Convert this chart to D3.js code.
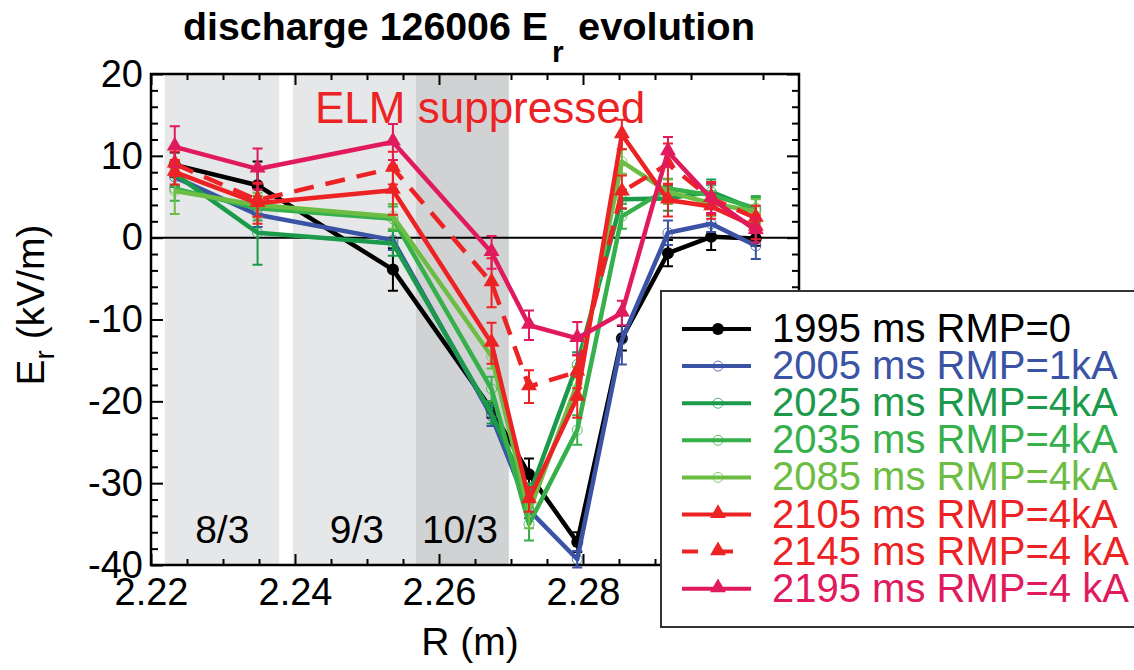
<!DOCTYPE html>
<html>
<head>
<meta charset="utf-8">
<script src="https://d3js.org/d3.v7.min.js"></script>
<style>
  body { margin: 0; background: #fff; }
  svg { display: block; font-family: "Liberation Sans", Arial, Helvetica, sans-serif; }
</style>
</head>
<body>
<svg id="chart" width="1134" height="670"></svg>
<script>
// radial positions (m)
var R = [2.2233, 2.2348, 2.2536, 2.2673, 2.2725, 2.2792, 2.2854, 2.2918, 2.2978, 2.3040];

// Er (kV/m) and error bars, one pair per time slice
var er1995 = [8.9, 6.4, -3.9, -21.0, -28.9, -37.2, -12.3, -1.9, 0.1, -0.1];
var sd1995 = [1.5, 2.9, 2.6, 1.0, 1.9, 1.2, 1.5, 1.6, 1.6, 0.9];
var er2005 = [7.4, 2.8, -0.3, -21.8, -33.3, -39.3, -12.5, 0.6, 1.7, -1.0];
var sd2005 = [1.2, 1.5, 1.2, 1.2, 1.0, 1.0, 3.0, 1.5, 1.0, 1.6];
var er2025 = [7.8, 0.6, -0.7, -21.5, -31.5, -15.5, 4.7, 4.8, 5.6, 3.4];
var sd2025 = [1.5, 3.9, 1.5, 1.2, 1.5, 1.5, 1.2, 1.5, 1.5, 1.5];
var er2035 = [6.0, 3.6, 2.3, -18.5, -35.0, -23.5, 2.6, 6.0, 5.2, 3.6];
var sd2035 = [1.5, 1.5, 1.5, 1.5, 2.0, 1.8, 1.5, 1.2, 1.2, 1.5];
var er2085 = [5.7, 4.0, 2.6, -14.5, -33.5, -17.8, 9.3, 5.6, 4.2, 3.2];
var sd2085 = [2.8, 1.5, 1.5, 1.5, 2.0, 2.0, 1.5, 1.5, 1.5, 1.5];
var er2105 = [8.0, 4.2, 5.8, -12.9, -32.0, -19.5, 12.6, 4.6, 3.8, 1.3];
var sd2105 = [1.5, 2.5, 3.0, 2.5, 1.5, 2.5, 1.8, 2.0, 1.5, 1.5];
var er2145 = [9.0, 4.6, 8.5, -5.5, -18.2, -16.4, 5.6, 9.0, 4.8, 2.4];
var sd2145 = [1.5, 2.0, 2.0, 3.0, 2.0, 2.0, 2.0, 2.5, 2.0, 1.5];
var er2195 = [11.1, 8.4, 11.7, -1.8, -10.7, -12.3, -9.2, 10.5, 4.8, 0.9];
var sd2195 = [2.5, 2.5, 2.2, 2.0, 1.8, 2.0, 1.5, 1.8, 1.8, 1.5];

var labels = ["1995 ms RMP=0", "2005 ms RMP=1kA", "2025 ms RMP=4kA", "2035 ms RMP=4kA",
              "2085 ms RMP=4kA", "2105 ms RMP=4kA", "2145 ms RMP=4 kA", "2195 ms RMP=4 kA"];

// rational surface bands (R range) and their names
var bandStart = [2.2219, 2.2397, 2.2568];
var bandEnd   = [2.2378, 2.2568, 2.2697];
var bandNames = ["8/3", "9/3", "10/3"];
var bandLabelR = [2.2299, 2.2486, 2.2629];

var xMajor = [2.22, 2.24, 2.26, 2.28];
var yMajor = [-40, -30, -20, -10, 0, 10, 20];

var colors  = ["#000000", "#3a53a4", "#1a9a4a", "#35b04a", "#6dbd45", "#ed2224", "#ed2224", "#e01a5c"];
var markers = ["dot", "ring", "ring", "ring", "ring", "tri", "tri", "tri"];
var dashes  = [null, null, null, null, null, null, "20,12", null];
var bandFill = ["#e6e7e8", "#e6e7e8", "#d1d2d4"];

var series = [er1995, er2005, er2025, er2035, er2085, er2105, er2145, er2195].map(function (v, i) {
  return {
    name: labels[i],
    values: v,
    errors: [sd1995, sd2005, sd2025, sd2035, sd2085, sd2105, sd2145, sd2195][i],
    color: colors[i], marker: markers[i], dash: dashes[i]
  };
});

var svg = d3.select("#chart");

var x = d3.scaleLinear().domain([2.22, 2.31]).range([151, 799]);
var y = d3.scaleLinear().domain([-40, 20]).range([565, 74]);

// shaded bands
svg.append("g").selectAll("rect")
  .data(bandStart)
  .join("rect")
  .attr("x", function (d) { return x(d); })
  .attr("width", function (d, i) { return x(bandEnd[i]) - x(d); })
  .attr("y", y(20))
  .attr("height", y(-40) - y(20))
  .attr("fill", function (d, i) { return bandFill[i]; });

svg.append("g").selectAll("text")
  .data(bandNames)
  .join("text")
  .attr("x", function (d, i) { return x(bandLabelR[i]); })
  .attr("y", y(-37.3))
  .attr("text-anchor", "middle")
  .attr("font-size", 39)
  .text(function (d) { return d; });

svg.append("text")
  .attr("x", 315)
  .attr("y", 123)
  .attr("font-size", 44)
  .attr("fill", "#ed2224")
  .text("ELM suppressed");

// zero line
svg.append("line")
  .attr("x1", x(2.22)).attr("x2", x(2.31))
  .attr("y1", y(0)).attr("y2", y(0))
  .attr("stroke", "#000").attr("stroke-width", 2);

// axes, ticks pointing inward
var xMinor = d3.range(2.225, 2.31, 0.005).filter(function (d) { return Math.round(d * 1000) % 20 !== 0; });
var yMinor = d3.range(-38, 20, 2).filter(function (d) { return d % 10 !== 0; });

function styleAxis(g) {
  g.select(".domain").remove();
  g.selectAll(".tick line").attr("stroke", "#000").attr("stroke-width", 2);
  g.selectAll(".tick text").attr("font-size", 38).attr("fill", "#000")
    .attr("font-family", "Liberation Sans, Arial, sans-serif");
}

svg.append("g").attr("transform", "translate(0," + y(-40) + ")")
  .call(d3.axisBottom(x).tickValues(xMajor).tickSize(-11).tickPadding(13).tickFormat(d3.format(".2f")))
  .call(styleAxis);
svg.append("g").attr("transform", "translate(0," + y(-40) + ")")
  .call(d3.axisBottom(x).tickValues(xMinor).tickSize(-6).tickFormat(""))
  .call(styleAxis);
svg.append("g").attr("transform", "translate(0," + y(20) + ")")
  .call(d3.axisTop(x).tickValues(xMajor).tickSize(-11).tickFormat(""))
  .call(styleAxis);
svg.append("g").attr("transform", "translate(0," + y(20) + ")")
  .call(d3.axisTop(x).tickValues(xMinor).tickSize(-6).tickFormat(""))
  .call(styleAxis);

svg.append("g").attr("transform", "translate(" + x(2.22) + ",0)")
  .call(d3.axisLeft(y).tickValues(yMajor).tickSize(-12).tickPadding(8)
    .tickFormat(function (d) { return String(d); }))
  .call(styleAxis);
svg.append("g").attr("transform", "translate(" + x(2.22) + ",0)")
  .call(d3.axisLeft(y).tickValues(yMinor).tickSize(-7).tickFormat(""))
  .call(styleAxis);
svg.append("g").attr("transform", "translate(" + x(2.31) + ",0)")
  .call(d3.axisRight(y).tickValues(yMajor).tickSize(-12).tickFormat(""))
  .call(styleAxis);
svg.append("g").attr("transform", "translate(" + x(2.31) + ",0)")
  .call(d3.axisRight(y).tickValues(yMinor).tickSize(-7).tickFormat(""))
  .call(styleAxis);

// frame
svg.append("rect")
  .attr("x", x(2.22)).attr("y", y(20))
  .attr("width", x(2.31) - x(2.22)).attr("height", y(-40) - y(20))
  .attr("fill", "none").attr("stroke", "#000").attr("stroke-width", 2.5);

// data
var line = d3.line().x(function (d) { return x(d[0]); }).y(function (d) { return y(d[1]); });
var tri = d3.symbol().type(d3.symbolTriangle).size(110);

function drawMarker(g, s, cx, cy) {
  if (s.marker === "dot") {
    g.append("circle").attr("cx", cx).attr("cy", cy).attr("r", 6).attr("fill", s.color);
  } else if (s.marker === "ring") {
    g.append("circle").attr("cx", cx).attr("cy", cy).attr("r", 5)
      .attr("fill", "none").attr("stroke", s.color).attr("stroke-width", 0.8);
  } else {
    g.append("path").attr("d", tri).attr("transform", "translate(" + cx + "," + (cy - 1) + ")")
      .attr("fill", s.color);
  }
}

series.forEach(function (s) {
  var g = svg.append("g");
  var pts = R.map(function (r, i) { return [r, s.values[i], s.errors[i]]; });

  g.selectAll(".eb").data(pts).join("path")
    .attr("d", function (d) {
      var cx = x(d[0]), y0 = y(d[1] - d[2]), y1 = y(d[1] + d[2]);
      return "M" + cx + "," + y0 + "V" + y1 +
        "M" + (cx - 5) + "," + y0 + "H" + (cx + 5) +
        "M" + (cx - 5) + "," + y1 + "H" + (cx + 5);
    })
    .attr("fill", "none").attr("stroke", s.color).attr("stroke-width", 2);

  g.append("path").datum(pts)
    .attr("d", line)
    .attr("fill", "none")
    .attr("stroke", s.color)
    .attr("stroke-width", 4.5)
    .attr("stroke-linejoin", "round")
    .attr("stroke-dasharray", s.dash);

  pts.forEach(function (d) { drawMarker(g, s, x(d[0]), y(d[1])); });
});

// legend
var lg = svg.append("g");
lg.append("rect").attr("x", 661).attr("y", 291).attr("width", 490).attr("height", 336)
  .attr("fill", "#fff").attr("stroke", "#333").attr("stroke-width", 2);
series.forEach(function (s, i) {
  var ly = 329 + i * 37.1;
  lg.append("line").attr("x1", 682).attr("x2", 751).attr("y1", ly).attr("y2", ly)
    .attr("stroke", s.color).attr("stroke-width", 4)
    .attr("stroke-dasharray", s.dash ? "16,19" : null);
  drawMarker(lg, s, 718, ly);
  lg.append("text").attr("x", 772).attr("y", ly + 13)
    .attr("font-size", 40).attr("fill", s.color).text(s.name);
});

// title
svg.append("text").attr("x", 183).attr("y", 40).attr("font-size", 38).attr("font-weight", "bold")
  .attr("textLength", 365).attr("lengthAdjust", "spacingAndGlyphs").text("discharge 126006 E");
svg.append("text").attr("x", 552).attr("y", 62).attr("font-size", 30).attr("font-weight", "bold").text("r");
svg.append("text").attr("x", 578).attr("y", 40).attr("font-size", 38).attr("font-weight", "bold")
  .attr("textLength", 177).attr("lengthAdjust", "spacingAndGlyphs").text("evolution");

// axis titles
svg.append("text").attr("x", 470).attr("y", 655).attr("text-anchor", "middle")
  .attr("font-size", 39).text("R (m)");

var yl = svg.append("text")
  .attr("transform", "translate(44,305) rotate(-90)")
  .attr("text-anchor", "middle")
  .attr("font-size", 39);
yl.append("tspan").text("E");
yl.append("tspan").attr("font-size", 28).attr("dy", 10).text("r");
yl.append("tspan").attr("dy", -10).text(" (kV/m)");
</script>
</body>
</html>
